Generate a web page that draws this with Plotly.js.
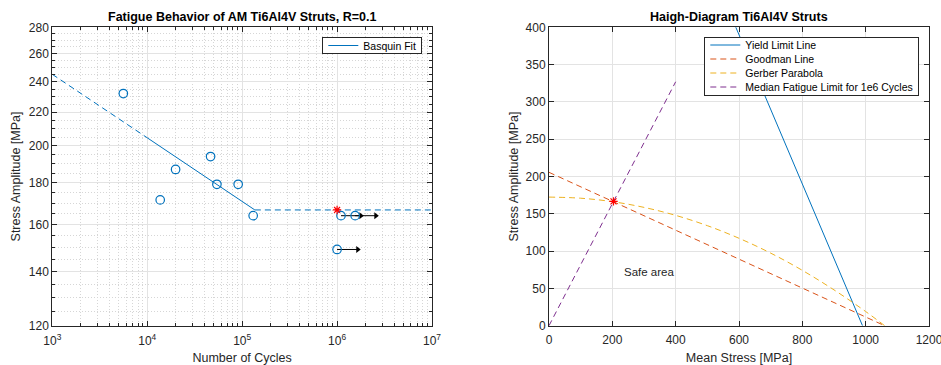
<!DOCTYPE html>
<html>
<head>
<meta charset="utf-8">
<script src="https://cdn.plot.ly/plotly-3.0.1.min.js"></script>
<style>html,body{margin:0;padding:0;background:#fff;}#chart{width:941px;height:365px;}</style>
</head>
<body>
<div id="chart"></div>
<script>
// ---- Left: S-N data ----
const cyclesFailed = [5600, 13700, 19900, 46500, 54200, 90800, 130600];
const stressFailed = [232, 171.5, 187, 194, 179.3, 179.3, 164];
const cyclesRunout = [1.0e6, 1.1e6, 1.55e6];
const stressRunout = [149, 164, 164];
const runoutArrowTip = [1.65e6, 1.78e6, 2.56e6];
const basquinN = [1e3, 1e4, 1.36e5, 1e7];
const basquinS = [245, 204.6, 166.7, 166.7];
const fatigueLimitN = [1e6];
const fatigueLimitS = [166.7];
const xTickVals = [1e3, 1e4, 1e5, 1e6, 1e7];
const xTickText = ['10<sup>3</sup>', '10<sup>4</sup>', '10<sup>5</sup>', '10<sup>6</sup>', '10<sup>7</sup>'];
const yTickVals = [120, 140, 160, 180, 200, 220, 240, 260, 280];

// ---- Right: Haigh diagram ----
const yieldSm = [0, 990];
const yieldSa = [990, 0];
const goodmanSm = [0, 1060];
const goodmanSa = [205.6, 0];
const gerberSm = [0, 100, 200, 300, 400, 500, 600, 700, 800, 900, 1000, 1060];
const gerberSa = [172.4, 170.9, 166.3, 158.6, 147.9, 134.1, 117.2, 97.3, 74.2, 48.0, 19.0, 0];
const medianSm = [0, 400];
const medianSa = [0, 327];
const limitPointSm = [203.7];
const limitPointSa = [166.7];
const safeLabel = {text: 'Safe area', sm: 230, sa: 72};

const BLUE = '#0072BD', ORANGE = '#D95319', YELLOW = '#EDB120', PURPLE = '#7E2F8E';
const AX = '#262626', GRID = '#e3e3e3', MGRID = '#d6d6d6';
const FONT = 'Liberation Sans, Arial, Helvetica, sans-serif';
const DASH = '6px,4px';

// minor grid values
const xMinor = [];
for (let d = 3; d < 7; d++) for (let k = 2; k <= 9; k++) xMinor.push(k * Math.pow(10, d));
const yMinor = [];
for (let v = 125; v < 280; v += 5) if (v % 20 !== 0) yMinor.push(v);

// runout arrows as line segments (tail -> tip) with arrowheads at tips
const arrowX = [], arrowY = [];
for (let i = 0; i < cyclesRunout.length; i++) {
  arrowX.push(cyclesRunout[i], runoutArrowTip[i], null);
  arrowY.push(stressRunout[i], stressRunout[i], null);
}

const traces = [
  {x: basquinN.slice(0, 2), y: basquinS.slice(0, 2), mode: 'lines', line: {color: BLUE, width: 1, dash: DASH}, showlegend: false, xaxis: 'x', yaxis: 'y'},
  {x: basquinN.slice(1, 3), y: basquinS.slice(1, 3), mode: 'lines', name: 'Basquin Fit', line: {color: BLUE, width: 1}, showlegend: true, legend: 'legend', xaxis: 'x', yaxis: 'y'},
  {x: basquinN.slice(2, 4), y: basquinS.slice(2, 4), mode: 'lines', line: {color: BLUE, width: 1, dash: DASH}, showlegend: false, xaxis: 'x', yaxis: 'y'},
  {x: arrowX, y: arrowY, mode: 'lines', line: {color: '#000', width: 1}, showlegend: false, xaxis: 'x', yaxis: 'y'},
  {x: runoutArrowTip, y: stressRunout, mode: 'markers', marker: {symbol: 'triangle-right', size: 6, color: '#000', line: {width: 0}}, showlegend: false, xaxis: 'x', yaxis: 'y'},
  {x: cyclesFailed, y: stressFailed, mode: 'markers', marker: {symbol: 'circle-open', size: 8.5, color: BLUE, line: {width: 1.2, color: BLUE}}, showlegend: false, xaxis: 'x', yaxis: 'y'},
  {x: cyclesRunout, y: stressRunout, mode: 'markers', marker: {symbol: 'circle-open', size: 8.5, color: BLUE, line: {width: 1.2, color: BLUE}}, showlegend: false, xaxis: 'x', yaxis: 'y'},
  {x: fatigueLimitN, y: fatigueLimitS, mode: 'markers', marker: {symbol: 'asterisk-open', size: 7, color: 'red', line: {width: 1.2, color: 'red'}}, showlegend: false, xaxis: 'x', yaxis: 'y'},

  {x: yieldSm, y: yieldSa, mode: 'lines', name: 'Yield Limit Line', line: {color: BLUE, width: 1}, legend: 'legend2', xaxis: 'x2', yaxis: 'y2'},
  {x: goodmanSm, y: goodmanSa, mode: 'lines', name: 'Goodman Line', line: {color: ORANGE, width: 1, dash: DASH}, legend: 'legend2', xaxis: 'x2', yaxis: 'y2'},
  {x: gerberSm, y: gerberSa, mode: 'lines', name: 'Gerber Parabola', line: {color: YELLOW, width: 1, dash: DASH, shape: 'spline'}, legend: 'legend2', xaxis: 'x2', yaxis: 'y2'},
  {x: medianSm, y: medianSa, mode: 'lines', name: 'Median Fatigue Limit for 1e6 Cycles', line: {color: PURPLE, width: 1, dash: DASH}, legend: 'legend2', xaxis: 'x2', yaxis: 'y2'},
  {x: limitPointSm, y: limitPointSa, mode: 'markers', marker: {symbol: 'asterisk-open', size: 7, color: 'red', line: {width: 1.2, color: 'red'}}, showlegend: false, xaxis: 'x2', yaxis: 'y2'}
];

const annotations = [];
annotations.push({xref: 'x2', yref: 'y2', x: safeLabel.sm, y: safeLabel.sa, text: safeLabel.text, showarrow: false, xanchor: 'left', yanchor: 'middle', font: {family: FONT, size: 11.5, color: AX}});
annotations.push({xref: 'paper', yref: 'paper', x: 242 / 941, y: 1 - 16.7 / 365, text: '<b>Fatigue Behavior of AM Ti6Al4V Struts, R=0.1</b>', showarrow: false, xanchor: 'center', yanchor: 'middle', font: {family: FONT, size: 12.5, color: '#000'}});
annotations.push({xref: 'paper', yref: 'paper', x: 739 / 941, y: 1 - 16.7 / 365, text: '<b>Haigh-Diagram Ti6Al4V Struts</b>', showarrow: false, xanchor: 'center', yanchor: 'middle', font: {family: FONT, size: 12.5, color: '#000'}});

const axCommon = {
  showline: true, linecolor: AX, linewidth: 1, mirror: 'ticks',
  ticks: 'inside', ticklen: 5, tickcolor: AX, tickwidth: 1,
  showgrid: true, gridcolor: GRID, gridwidth: 1, zeroline: false,
  ticklabeloverflow: 'allow',
  tickfont: {family: FONT, size: 12, color: AX}
};

const layout = {
  width: 941, height: 365,
  margin: {l: 0, r: 0, t: 0, b: 0},
  paper_bgcolor: '#fff', plot_bgcolor: '#fff',
  font: {family: FONT, color: AX},
  xaxis: Object.assign({}, axCommon, {
    type: 'log', domain: [52.3 / 941, 432 / 941], range: [3, 7], anchor: 'y',
    tickmode: 'array', tickvals: xTickVals, ticktext: xTickText, ticklabelstandoff: 4,
    minor: {tickmode: 'array', tickvals: xMinor, ticks: 'inside', ticklen: 3, tickcolor: AX, showgrid: true, gridcolor: MGRID, griddash: '1px,2px', gridwidth: 1},
    title: {text: 'Number of Cycles', font: {family: FONT, size: 12.5, color: AX}, standoff: 10}
  }),
  yaxis: Object.assign({}, axCommon, {
    type: 'log', domain: [1 - 325.7 / 365, 1 - 27.3 / 365], range: [Math.log10(120), Math.log10(280)], anchor: 'x',
    tickmode: 'array', tickvals: yTickVals, ticktext: yTickVals.map(String),
    minor: {tickmode: 'array', tickvals: yMinor, ticks: 'inside', ticklen: 3, tickcolor: AX, showgrid: true, gridcolor: MGRID, griddash: '1px,2px', gridwidth: 1},
    title: {text: 'Stress Amplitude [MPa]', font: {family: FONT, size: 12.5, color: AX}, standoff: 5}
  }),
  xaxis2: Object.assign({}, axCommon, {
    domain: [549 / 941, 929 / 941], range: [0, 1200], anchor: 'y2',
    tickmode: 'linear', tick0: 0, dtick: 200, ticklabelstandoff: 3,
    title: {text: 'Mean Stress [MPa]', font: {family: FONT, size: 12.5, color: AX}, standoff: 7}
  }),
  yaxis2: Object.assign({}, axCommon, {
    domain: [1 - 325.7 / 365, 1 - 27.3 / 365], range: [0, 400], anchor: 'x2',
    tickmode: 'linear', tick0: 0, dtick: 50,
    title: {text: 'Stress Amplitude [MPa]', font: {family: FONT, size: 12.5, color: AX}, standoff: 4}
  }),
  legend: {x: 422.3 / 941, xanchor: 'right', y: 1 - 36.7 / 365, yanchor: 'top', bgcolor: '#fff', bordercolor: AX, borderwidth: 1, font: {family: FONT, size: 10.5, color: '#000'}, tracegroupgap: 0},
  legend2: {x: 919.3 / 941, xanchor: 'right', y: 1 - 36.7 / 365, yanchor: 'top', bgcolor: '#fff', bordercolor: AX, borderwidth: 1, font: {family: FONT, size: 10.5, color: '#000'}, tracegroupgap: 0},
  annotations: annotations
};

// compact the legend rows to the reference's row pitch
function tightenLegend(cls, firstRow, pitch, boxHeight) {
  try {
    const g = document.querySelector('#chart g.' + cls);
    if (!g) return;
    const items = g.querySelectorAll('g.traces');
    items.forEach(function (it, i) {
      const tr = it.getAttribute('transform') || '';
      const m = tr.match(/translate\(\s*([-\d.]+)[ ,]+([-\d.]+)\s*\)/);
      const x = m ? parseFloat(m[1]) : 0;
      it.setAttribute('transform', 'translate(' + x + ',' + (firstRow + i * pitch) + ')');
    });
    const bg = g.querySelector('rect.bg');
    if (bg) bg.setAttribute('height', boxHeight);
  } catch (e) {}
}

Plotly.newPlot('chart', traces, layout, {displayModeBar: false, staticPlot: true}).then(function () {
  tightenLegend('legend', 8.8, 14, 16.6);
  tightenLegend('legend2', 8.3, 14, 58.3);
});
</script>
</body>
</html>
